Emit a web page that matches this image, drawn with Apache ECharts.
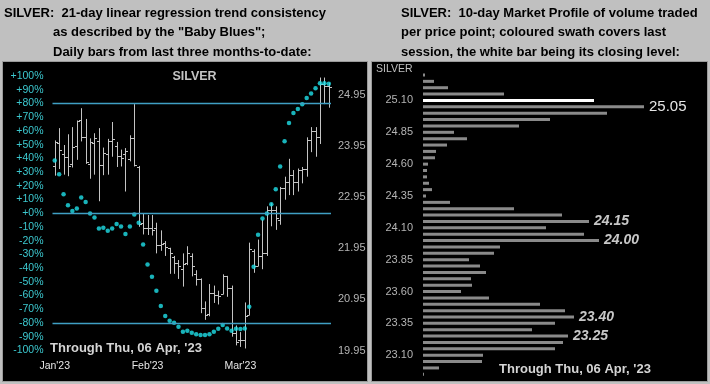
<!DOCTYPE html>
<html><head><meta charset="utf-8">
<script src="https://cdn.jsdelivr.net/npm/echarts@6.0.0/dist/echarts.min.js"></script>
<style>html,body{margin:0;padding:0;background:#c0c0c0;overflow:hidden}#c{width:710px;height:384px}</style>
</head><body><div id="c"></div>
<script>
// ---- Left panel data: daily OHLC bars (SILVER) ----
const dates = ['2023-01-06','2023-01-09','2023-01-10','2023-01-11','2023-01-12','2023-01-13','2023-01-17','2023-01-18','2023-01-19','2023-01-20','2023-01-23','2023-01-24','2023-01-25','2023-01-26','2023-01-27','2023-01-30','2023-01-31',
'2023-02-01','2023-02-02','2023-02-03','2023-02-06','2023-02-07','2023-02-08','2023-02-09','2023-02-10','2023-02-13','2023-02-14','2023-02-15','2023-02-16','2023-02-17','2023-02-21','2023-02-22','2023-02-23','2023-02-24','2023-02-27','2023-02-28',
'2023-03-01','2023-03-02','2023-03-03','2023-03-06','2023-03-07','2023-03-08','2023-03-09','2023-03-10','2023-03-13','2023-03-14','2023-03-15','2023-03-16','2023-03-17','2023-03-20','2023-03-21','2023-03-22','2023-03-23','2023-03-24','2023-03-27','2023-03-28','2023-03-29','2023-03-30','2023-03-31',
'2023-04-03','2023-04-04','2023-04-05','2023-04-06'];
const opens  = [23.55,24.00,23.80,23.73,23.60,23.95,24.45,24.12,23.60,24.00,24.05,23.57,23.80,24.05,23.95,23.75,23.80,
23.70,24.10,23.54,22.45,22.35,22.34,22.35,22.02,22.05,21.96,21.78,21.66,21.55,21.66,21.80,21.45,21.34,20.79,20.66,
21.08,21.04,21.05,21.41,21.17,20.30,20.15,20.15,20.65,21.90,21.60,21.80,21.86,22.70,22.70,22.50,23.12,23.25,23.38,23.25,23.48,23.51,24.06,
24.25,24.12,25.16,25.12];
const highs  = [24.06,24.30,23.97,24.18,24.32,24.45,24.69,24.48,24.10,24.20,24.30,23.92,24.09,24.42,24.03,23.88,23.91,
24.16,24.77,23.56,22.62,22.60,22.60,22.45,22.30,22.09,21.96,21.80,21.72,21.85,21.99,21.85,21.52,21.36,20.91,21.25,
21.22,21.12,21.44,21.41,21.22,20.44,20.31,20.89,22.06,21.93,22.12,22.51,22.77,22.83,22.77,23.15,23.35,23.70,23.48,23.51,23.54,24.12,24.32,
24.32,25.29,25.29,25.19];
const lows   = [23.37,23.50,23.39,23.36,23.53,23.68,24.04,23.60,23.31,23.39,22.87,23.38,23.39,23.74,23.54,23.55,23.06,
23.65,23.55,22.37,22.22,22.21,22.20,21.85,21.90,21.80,21.45,21.45,21.35,21.20,21.62,21.40,21.22,20.68,20.55,20.62,
20.88,20.85,21.05,21.00,20.22,20.05,20.02,19.99,20.64,21.47,21.60,21.54,21.80,22.38,22.31,22.41,22.90,22.99,22.99,23.06,23.22,23.35,23.83,
23.74,23.99,24.77,24.70];
const closes = [24.02,23.88,23.74,23.56,23.94,24.43,24.13,23.63,24.02,24.10,23.57,23.82,24.05,24.08,23.75,23.72,23.86,
24.10,23.57,22.42,22.35,22.34,22.30,22.02,22.03,21.98,21.86,21.66,21.60,21.65,21.86,21.60,21.34,20.79,20.64,21.08,
21.04,21.02,21.41,21.17,20.30,20.12,20.15,20.63,21.93,21.60,21.80,21.86,22.70,22.70,22.54,23.12,23.25,23.38,23.25,23.48,23.51,24.06,24.25,
24.12,25.16,25.12,25.10];
// "Baby Blues": 21-day linear regression trend consistency (%)
const babyBlues = [38.5,28.4,13.8,5.8,1.7,3.4,11.4,8.2,-0.2,-3.1,-11.1,-10.5,-12.8,-11.1,-7.9,-9.7,-15.1,
-9.7,-1.0,-6.9,-22.7,-37.3,-46.3,-56.5,-67.6,-74.9,-78.3,-79.8,-82.7,-86.3,-85.6,-87.1,-88.2,-88.7,-88.7,-88.2,
-86.3,-84.1,-81.5,-83.9,-85.6,-84.2,-84.4,-84.0,-68.1,-39.0,-15.6,-3.9,-0.2,6.5,17.5,34.0,52.4,65.7,73.0,75.9,79.5,83.9,87.3,
91.1,94.8,94.8,94.3];
const refLevels = [80, 0, -80];
const monthLabels = {0:"Jan'23", 21:"Feb'23", 42:"Mar'23"};
const priceTickLabels = ['19.95','20.95','21.95','22.95','23.95','24.95'];

// ---- Right panel data: 10-day market profile ----
const profileLevels = ['22.95','23.00','23.05','23.10','23.15','23.20','23.25','23.30','23.35','23.40',
'23.45','23.50','23.55','23.60','23.65','23.70','23.75','23.80','23.85','23.90',
'23.95','24.00','24.05','24.10','24.15','24.20','24.25','24.30','24.35','24.40',
'24.45','24.50','24.55','24.60','24.65','24.70','24.75','24.80','24.85','24.90',
'24.95','25.00','25.05','25.10','25.15','25.20','25.25','25.30'];
const profileVolumes = [1,16,59,60,132,140,145,109,132,151,
142,117,66,38,49,48,63,57,46,71,
77,176,161,123,166,139,91,27,3,9,
6,4,4,5,12,13,24,44,31,96,
127,184,221,171,81,25,11,2];
const closingLevel = '25.10';
const pocLevel = '25.05';
const italicLevels = ['24.15','24.00','23.40','23.25'];
const profileTickLabels = ['23.10','23.35','23.60','23.85','24.10','24.35','24.60','24.85','25.10'];

const FONT = '"Liberation Sans", Arial, sans-serif';
const chart = echarts.init(document.getElementById('c'), null, {renderer:'canvas'});

const ohlc = dates.map((d,i)=>[i, opens[i], highs[i], lows[i], closes[i]]);
const profileData = profileLevels.map((lv,i)=>{
  const item = {value: profileVolumes[i]};
  if (lv === closingLevel) item.itemStyle = {color:'#ffffff'};
  if (lv === pocLevel) item.label = {show:true, position:'right', distance:5, formatter:lv, color:'#e6e6e6', fontSize:15, fontFamily:FONT};
  if (italicLevels.indexOf(lv) >= 0) item.label = {show:true, position:'right', distance:5, formatter:lv, color:'#c8c8c8', fontSize:14, fontStyle:'italic', fontWeight:'bold', fontFamily:FONT};
  return item;
});

function txt(text, x, y, opt) {
  return Object.assign({type:'text', z:100, silent:true, style:Object.assign({text:text, x:x, y:y, fill:'#000', font:'bold 13px '+FONT, verticalAlign:'middle'}, opt||{})});
}

chart.setOption({
  animation:false,
  backgroundColor:'#c0c0c0',
  textStyle:{fontFamily:FONT},
  graphic:[
    {type:'rect', z:-10, silent:true, shape:{x:2.5, y:61.5, width:365, height:320}, style:{fill:'#000', stroke:'#9a9a9a', lineWidth:1}},
    {type:'rect', z:-10, silent:true, shape:{x:371.5, y:61.5, width:336, height:320}, style:{fill:'#000', stroke:'#9a9a9a', lineWidth:1}},
    txt('SILVER:  21-day linear regression trend consistency', 4, 13),
    txt('as described by the "Baby Blues";', 53, 32.5),
    txt('Daily bars from last three months-to-date:', 53, 52),
    txt('SILVER:  10-day Market Profile of volume traded', 401, 13),
    txt('per price point; coloured swath covers last', 401, 32.5),
    txt('session, the white bar being its closing level:', 401, 52),
    txt('SILVER', 194.5, 77, {fill:'#c4c4c4', font:'bold 12.5px '+FONT, align:'center'}),
    txt('SILVER', 376, 69, {fill:'#c0c0c0', font:'10.5px '+FONT}),
    txt("Through Thu, 06 Apr, '23", 50, 348, {fill:'#d4d4d4', font:'bold 13px '+FONT}),
    txt("Through Thu, 06 Apr, '23", 499, 369, {fill:'#d4d4d4', font:'bold 13px '+FONT})
  ],
  grid:[
    {left:52.5, right:379, top:76, bottom:33.5, containLabel:false},
    {left:423, right:7, top:71.8, bottom:6.5, containLabel:false}
  ],
  xAxis:[
    {type:'category', gridIndex:0, data:dates, boundaryGap:true,
     axisLine:{show:false}, axisTick:{show:false}, splitLine:{show:false},
     axisLabel:{color:'#e6e6e6', fontSize:10.5, margin:10,
       interval:function(idx){ return monthLabels[idx] !== undefined; },
       formatter:function(v, idx){ return monthLabels[idx] || ''; }}},
    {type:'value', gridIndex:1, min:0, max:280, show:false}
  ],
  yAxis:[
    {type:'value', gridIndex:0, position:'left', min:-100, max:100, interval:10,
     axisLine:{show:false}, axisTick:{show:false}, splitLine:{show:false},
     axisLabel:{color:'#3cc8cf', fontSize:10.5, margin:9,
       formatter:function(v){ return (v >= 0 ? '+' : '') + v + '%'; }}},
    {type:'value', gridIndex:0, position:'right', min:19.95, max:25.32, interval:1,
     axisLine:{show:false}, axisTick:{show:false}, splitLine:{show:false},
     axisLabel:{color:'#b4b4b4', fontSize:11, margin:7,
       formatter:function(v){ const s = v.toFixed(2); return priceTickLabels.indexOf(s) >= 0 ? s : ''; }}},
    {type:'category', gridIndex:1, data:profileLevels, boundaryGap:true,
     axisLine:{show:false}, axisTick:{show:false}, splitLine:{show:false},
     axisLabel:{color:'#b4b4b4', fontSize:11, margin:10,
       interval:function(idx, v){ return profileTickLabels.indexOf(v) >= 0; }}}
  ],
  series:[
    {type:'custom', xAxisIndex:0, yAxisIndex:1, data:ohlc, encode:{x:0, y:[1,2,3,4]}, silent:true, z:3,
     renderItem:function(params, api){
       const i = api.value(0);
       const o = api.coord([i, api.value(1)]);
       const h = api.coord([i, api.value(2)]);
       const l = api.coord([i, api.value(3)]);
       const c = api.coord([i, api.value(4)]);
       const x = Math.round(o[0]) + 0.5;
       const t = 2.5;
       const st = {stroke:'#c4c4c4', lineWidth:1};
       return {type:'group', children:[
         {type:'line', shape:{x1:x, y1:h[1], x2:x, y2:l[1]}, style:st},
         {type:'line', shape:{x1:x-t, y1:Math.round(o[1])+0.5, x2:x, y2:Math.round(o[1])+0.5}, style:st},
         {type:'line', shape:{x1:x, y1:Math.round(c[1])+0.5, x2:x+t, y2:Math.round(c[1])+0.5}, style:st}
       ]};
     }},
    {type:'scatter', xAxisIndex:0, yAxisIndex:0, data:babyBlues, symbol:'circle', symbolSize:4.5, silent:true, z:4,
     itemStyle:{color:'#1fe0e8'},
     markLine:{silent:true, symbol:['none','none'], label:{show:false},
       lineStyle:{color:'#3f9fc4', width:1.3, type:'solid'},
       data:refLevels.map(v=>({yAxis:v}))}},
    {type:'bar', xAxisIndex:1, yAxisIndex:2, data:profileData, barWidth:3, silent:true,
     itemStyle:{color:'#8a8a8a'}}
  ]
});
</script></body></html>
